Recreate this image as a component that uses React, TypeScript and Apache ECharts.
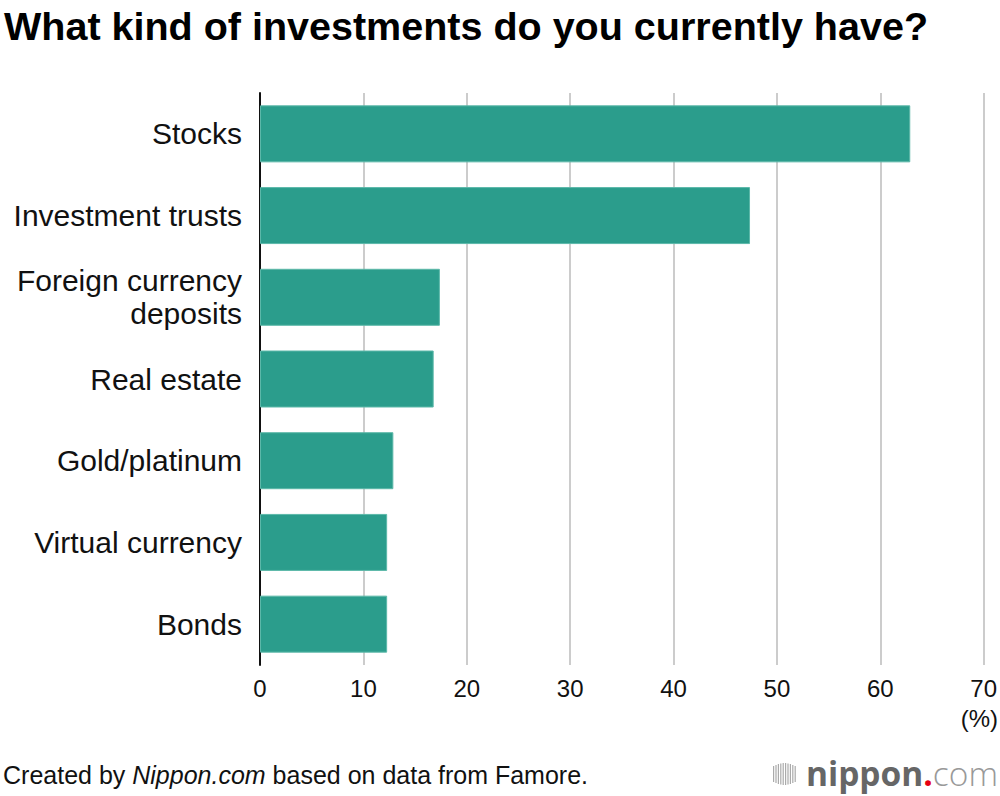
import React, { useEffect, useRef } from "react";
import * as echarts from "echarts";

const categories = [
  "Stocks",
  "Investment trusts",
  "Foreign currency\ndeposits",
  "Real estate",
  "Gold/platinum",
  "Virtual currency",
  "Bonds",
];
const values = [62.9, 47.4, 17.4, 16.8, 12.9, 12.3, 12.3];
const xTicks = { min: 0, max: 70, interval: 10 };
const titleText = "What kind of investments do you currently have?";
const unitText = "(%)";

export default function App() {
  const ref = useRef<HTMLDivElement>(null);
  useEffect(() => {
    document.body.style.margin = "0";
    const chart = echarts.init(ref.current!, null, { renderer: "svg" });
    const font = "'Liberation Sans', Arial, Helvetica, sans-serif";
    const bars = [0, 1, 2, 3, 4, 5, 6, 7, 8, 9];
    chart.setOption({
      animation: false,
      backgroundColor: "#ffffff",
      textStyle: { fontFamily: font },
      grid: { left: 260, right: 15, top: 93, bottom: 131, containLabel: false },
      xAxis: {
        type: "value",
        min: xTicks.min,
        max: xTicks.max,
        interval: xTicks.interval,
        axisLine: { show: false },
        axisTick: { show: false },
        axisLabel: { fontSize: 24, color: "#111", margin: 11, fontFamily: font },
        splitLine: { show: true, lineStyle: { color: "#cccccc", width: 2 } },
      },
      yAxis: {
        type: "category",
        data: categories,
        inverse: true,
        axisLine: { show: true, lineStyle: { color: "#111", width: 2 } },
        axisTick: { show: false },
        axisLabel: {
          fontSize: 30,
          color: "#111",
          margin: 18,
          align: "right",
          lineHeight: 33,
          fontFamily: font,
        },
        splitLine: { show: false },
      },
      series: [
        {
          type: "bar",
          data: values,
          barWidth: 57,
          itemStyle: { color: "#2b9d8c", borderColor: "#5cb8a9", borderWidth: 1 },
        },
      ],
      graphic: [
        {
          type: "text",
          left: 4,
          top: 6,
          style: {
            text: titleText,
            fontSize: 39.5,
            fontWeight: "bold",
            fill: "#000",
            fontFamily: font,
          },
        },
        {
          type: "text",
          right: 2,
          top: 706,
          style: { text: unitText, fontSize: 24, fill: "#111", fontFamily: font },
        },
        {
          type: "text",
          left: 3,
          top: 762,
          style: {
            text: "{a|Created by }{b|Nippon.com}{a| based on data from Famore.}",
            rich: {
              a: { fontSize: 25, fill: "#111", fontFamily: font },
              b: { fontSize: 25, fill: "#111", fontStyle: "italic", fontFamily: font },
            },
          },
        },
        {
          type: "group",
          left: 773,
          top: 763,
          children: bars.map((i) => ({
            type: "rect",
            shape: {
              x: i * 2.4,
              y: 5 - Math.round(6 * Math.sin((i / 9) * Math.PI)) / 2,
              width: 1.2,
              height: 16 + Math.round(6 * Math.sin((i / 9) * Math.PI)),
            },
            style: { fill: "#aaaaaa" },
          })),
        },
        {
          type: "text",
          right: 2,
          top: 756,
          style: {
            text: "{n|nippon}{d|.}{c|com}",
            rich: {
              n: { fontSize: 33.5, fontWeight: "bold", fill: "#666", fontFamily: "'Open Sans', sans-serif" },
              d: { fontSize: 33.5, fontWeight: "bold", fill: "#e60012", fontFamily: "'Open Sans', sans-serif" },
              c: { fontSize: 33.5, fontWeight: 300, fill: "#999", fontFamily: "'Open Sans', sans-serif" },
            },
          },
        },
      ],
    });
    return () => chart.dispose();
  }, []);
  return (
    <div
      ref={ref}
      style={{ position: "absolute", left: 0, top: 0, width: 1000, height: 796 }}
    />
  );
}
